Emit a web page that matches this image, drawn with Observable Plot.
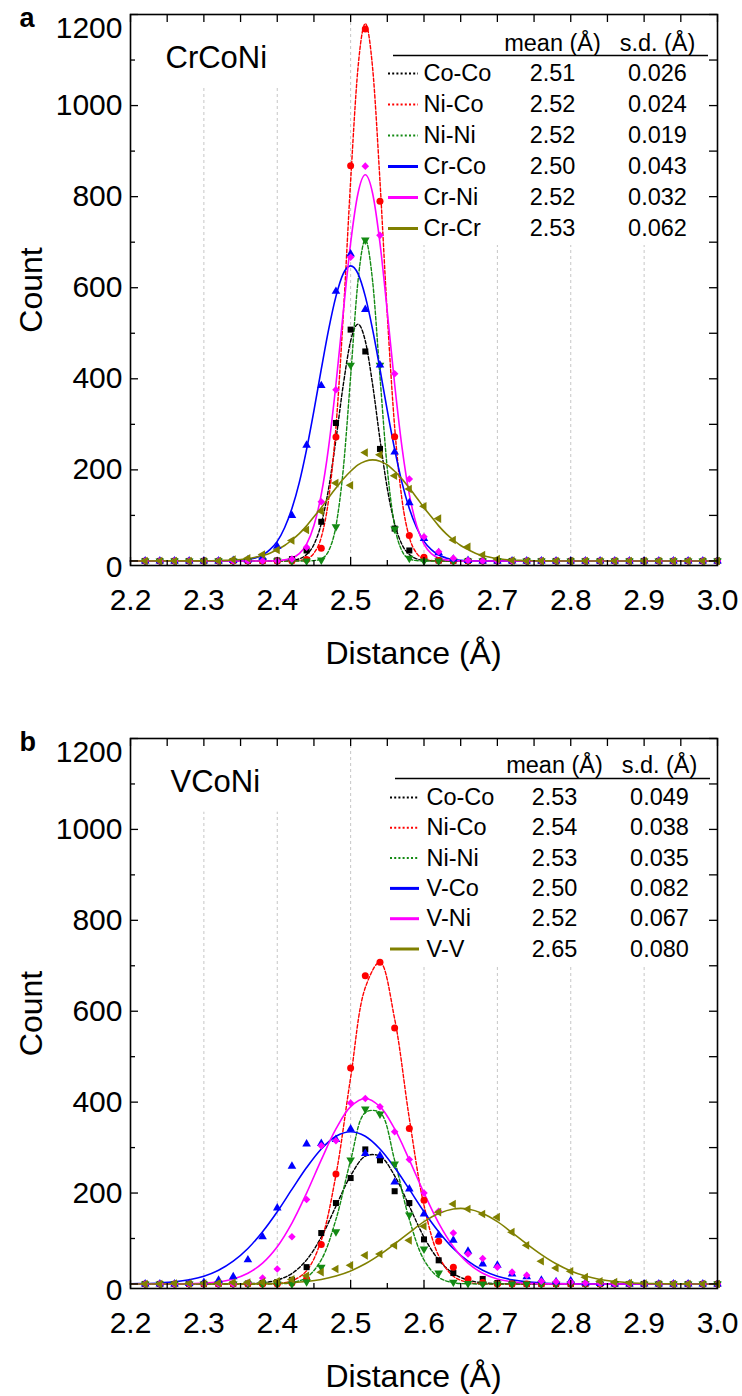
<!DOCTYPE html>
<html>
<head>
<meta charset="utf-8">
<script src="https://cdn.jsdelivr.net/npm/d3@7"></script>
<script src="https://cdn.jsdelivr.net/npm/@observablehq/plot@0.6"></script>
<style>
  html, body { margin: 0; padding: 0; background: #fff; }
  #chart svg { display: block; }
</style>
</head>
<body>
<div id="chart"></div>
<script>
// ---------- shared axis data ----------
const xMajor = [2.2, 2.3, 2.4, 2.5, 2.6, 2.7, 2.8, 2.9, 3.0];
const xTickLabels = ["2.2", "2.3", "2.4", "2.5", "2.6", "2.7", "2.8", "2.9", "3.0"];
const xMinor = [2.25, 2.35, 2.45, 2.55, 2.65, 2.75, 2.85, 2.95];
const gridX = [2.3, 2.4, 2.5, 2.6, 2.7, 2.8, 2.9];
const yMajor = [0, 200, 400, 600, 800, 1000, 1200];
const yTickLabels = ["0", "200", "400", "600", "800", "1000", "1200"];
const yMinor = [100, 300, 500, 700, 900, 1100];

// ---------- legend tables ----------
const pairsA = ["Co-Co", "Ni-Co", "Ni-Ni", "Cr-Co", "Cr-Ni", "Cr-Cr"];
const meansA = ["2.51", "2.52", "2.52", "2.50", "2.52", "2.53"];
const sdsA = ["0.026", "0.024", "0.019", "0.043", "0.032", "0.062"];
const pairsB = ["Co-Co", "Ni-Co", "Ni-Ni", "V-Co", "V-Ni", "V-V"];
const meansB = ["2.53", "2.54", "2.53", "2.50", "2.52", "2.65"];
const sdsB = ["0.049", "0.038", "0.035", "0.082", "0.067", "0.080"];

// ---------- histogram points (distance, Å) ----------
const pointX = [2.22, 2.24, 2.26, 2.28, 2.30, 2.32, 2.34, 2.36, 2.38, 2.40,
                2.42, 2.44, 2.46, 2.48, 2.50, 2.52, 2.54, 2.56, 2.58, 2.60,
                2.62, 2.64, 2.66, 2.68, 2.70, 2.72, 2.74, 2.76, 2.78, 2.80,
                2.82, 2.84, 2.86, 2.88, 2.90, 2.92, 2.94, 2.96, 2.98, 3.00];

// panel a (CrCoNi) counts
const aCoCoPts = [0,0,0,0,0,0,0,0,0,1, 4,23,86,303,508,460,246,71,23,6, 1,0,0,0,0,0,0,0,0,0, 0,0,0,0,0,0,0,0,0,0];
const aNiCoPts = [0,0,0,0,0,0,0,0,0,0, 0,3,28,272,868,1168,790,273,56,8, 1,0,0,0,0,0,0,0,0,0, 0,0,0,0,0,0,0,0,0,0];
const aNiNiPts = [0,0,0,0,0,0,0,0,0,0, 0,0,2,75,430,705,430,70,6,0, 0,0,0,0,0,0,0,0,0,0, 0,0,0,0,0,0,0,0,0,0];
const aCrCoPts = [0,0,0,0,0,0,1,2,8,32, 100,254,385,592,674,552,430,239,128,49, 18,4,1,0,0,0,0,0,0,0, 0,0,0,0,0,0,0,0,0,0];
const aCrNiPts = [0,0,0,0,0,0,0,0,0,0, 4,30,130,376,667,867,715,411,180,53, 20,6,1,0,0,0,0,0,0,0, 0,0,0,0,0,0,0,0,0,0];
const aCrCrPts = [0,0,0,0,0,0,3,6,14,24, 45,68,109,171,166,238,233,187,158,120, 93,46,31,13,4,1,0,0,0,0, 0,0,0,0,0,0,0,0,0,0];

// panel b (VCoNi) counts
const bCoCoPts = [0,0,0,0,0,0,0,1,2,4, 9,37,112,178,233,296,272,204,178,98, 52,24,7,11,2,1,0,0,0,0, 0,0,0,0,0,0,0,0,0,0];
const bNiCoPts = [0,0,0,0,0,0,0,0,0,0, 2,11,87,242,475,678,708,563,342,184, 94,37,11,3,0,0,0,0,0,0, 0,0,0,0,0,0,0,0,0,0];
const bNiNiPts = [0,0,0,0,0,0,0,0,0,0, 0,5,37,115,273,385,374,264,152,77, 24,4,1,0,0,0,0,0,0,0, 0,0,0,0,0,0,0,0,0,0];
const bVCoPts  = [0,0,0,1,3,8,16,53,104,167, 259,308,309,318,341,287,282,224,209,154, 107,96,72,44,41,22,16,8,5,7, 2,1,0,0,0,0,0,0,0,0];
const bVNiPts  = [0,0,0,0,0,0,0,2,13,33, 104,186,304,315,398,408,390,335,274,200, 160,112,66,56,37,26,19,6,5,4, 2,1,0,0,0,0,0,0,0,0];
const bVVPts   = [0,0,1,1,1,2,3,3,4,6, 10,18,26,33,41,63,66,85,96,127, 158,176,165,154,147,114,85,50,35,28, 15,6,4,2,1,0,0,0,0,0];

// ---------- fitted curves ----------
const fitXA = [2.20, 2.30, 2.31, 2.32, 2.33, 2.34, 2.35, 2.36, 2.37, 2.38, 2.39,
               2.40, 2.41, 2.42, 2.43, 2.44, 2.45, 2.46, 2.47, 2.48, 2.49,
               2.50, 2.51, 2.52, 2.53, 2.54, 2.55, 2.56, 2.57, 2.58, 2.59,
               2.60, 2.61, 2.62, 2.63, 2.64, 2.65, 2.66, 2.67, 2.68, 2.69,
               2.70, 2.71, 2.72, 2.73, 2.74, 2.75, 2.76, 2.77, 2.78, 2.79, 2.80, 3.00];
const aCoCoFit = [0, 0,0,0,0,0,0,0,0,0,0, 0,0.3,1.3,4.6,14,36,82,159,267,387, 483,520,483,387,267,159,82,36,14,4.6, 1.3,0.3,0,0,0,0,0,0,0,0, 0,0,0,0,0,0,0,0,0,0,0, 0];
const aNiCoFit = [0, 0,0,0,0,0,0,0,0,0,0, 0,0,0,1,4.6,17,52,135,294,540, 834,1082,1180,1082,834,540,294,135,52,17, 4.6,1,0,0,0,0,0,0,0,0, 0,0,0,0,0,0,0,0,0,0,0, 0];
const aNiNiFit = [0, 0,0,0,0,0,0,0,0,0,0, 0,0,0,0,0,0.8,4.8,22,77,202, 405,614,705,614,405,202,77,22,4.8,0.8, 0,0,0,0,0,0,0,0,0,0, 0,0,0,0,0,0,0,0,0,0,0, 0];
const aCrCoFit = [0, 0,0,0,0.3,0.6,1.5,3.2,6.7,13,25, 43,73,115,172,245,330,421,508,581,631, 648,631,581,508,421,330,245,172,115,73, 43,25,13,6.7,3.2,1.5,0.6,0.3,0,0, 0,0,0,0,0,0,0,0,0,0,0, 0];
const aCrNiFit = [0, 0,0,0,0,0,0,0,0,0,0, 0.8,2.3,6.4,16,37,78,146,250,388,547, 698,807,848,807,698,547,388,250,146,78, 37,16,6.4,2.3,0.8,0,0,0,0,0, 0,0,0,0,0,0,0,0,0,0,0, 0];
const aCrCrFit = [0, 0.2,0.4,0.7,1.2,2.0,3.3,5.2,8,12,17, 25,34,46,60,77,97,117,139,160,180, 197,211,219,222,219,211,197,180,160,139, 117,97,77,60,46,34,25,17,12,8, 5.2,3.3,2.0,1.2,0.7,0.4,0.2,0.1,0.07,0,0, 0];

const fitXB = [2.20, 2.22, 2.24, 2.26, 2.28, 2.30, 2.32, 2.34, 2.36, 2.38,
               2.40, 2.42, 2.44, 2.46, 2.48, 2.50, 2.52, 2.54, 2.56, 2.58,
               2.60, 2.62, 2.64, 2.66, 2.68, 2.70, 2.72, 2.74, 2.76, 2.78,
               2.80, 2.82, 2.84, 2.86, 2.88, 2.90, 2.92, 2.94, 2.96, 2.98, 3.00];
const bCoCoFit = [0,0,0,0,0,0,0,0.2,0.7,2.6, 8.5,23,53,103,171,238,281,281,238,171, 103,53,23,8.5,2.6,0.7,0.2,0,0,0, 0,0,0,0,0,0,0,0,0,0,0];
const bNiCoFit = [0,0,0,0,0,0,0,0,0,0.15, 1.2,6.7,29,96,240,454,652,708,583,364, 173,62,17,3.5,0.5,0,0,0,0,0, 0,0,0,0,0,0,0,0,0,0,0];
const bNiNiFit = [0,0,0,0,0,0,0,0,0,0, 0.4,2.8,14.4,53,142,272,377,377,272,142, 53,14.4,2.8,0.4,0,0,0,0,0,0, 0,0,0,0,0,0,0,0,0,0,0];
const bVCoFit  = [0.4,1.0,2.2,4.6,9.2,17,30,50,78,115, 159,208,256,297,325,335,325,297,256,208, 159,115,78,50,30,17,9.2,4.6,2.2,1.0, 0.4,0.2,0,0,0,0,0,0,0,0,0];
const bVNiFit  = [0,0,0.1,0.2,0.7,1.9,4.7,11,23.6,46, 82,134,200,273,341,390,408,390,341,273, 200,134,82,46,23.6,11,4.7,1.9,0.7,0.2, 0.1,0,0,0,0,0,0,0,0,0,0];
const bVVFit   = [0,0,0,0,0,0,0,0.1,0.2,0.6, 1.3,2.7,5.3,9.9,17.4,28.6,44.3,64.5,88,113, 137,155,165,165,155,137,113,88,64.5,44.3, 28.6,17.4,9.9,5.3,2.7,1.3,0.6,0.2,0.1,0,0];

// ---------- styling ----------
const FONT = "'Liberation Sans', Arial, Helvetica, sans-serif";
const colors = ["#000000", "#ff0000", "#138a13", "#0000ff", "#ff00ff", "#808000"];
const symbols = ["square", "circle", "triangle", "triangle", "diamond2", "triangle"];
const rotations = [0, 0, 180, 0, 0, -90];
const radii = [3.4, 3.5, 3.2, 3.2, 3.4, 3.2];
const W = 742, ML = 130, MR = 25;

function makePanel(c) {
  const top = c.marginTop, bottom = c.height - c.marginBottom;
  const sx = Plot.scale({x: {domain: [2.2, 3.0], range: [ML, W - MR]}});
  const sy = Plot.scale({y: {domain: [-10, 1200], range: [bottom, top]}});
  const X = px => sx.invert(px), Y = py => sy.invert(py);
  const tk = {stroke: "black", strokeWidth: 1.3};
  const marks = [
    Plot.ruleX(gridX, {y1: -10, y2: 1200, stroke: "#c6c6c6", strokeWidth: 1, strokeDasharray: "3,3"}),
    Plot.rect([0], {x1: 2.2, x2: X(c.labelBox[0]), y1: Y(c.labelBox[1]), y2: 1200, fill: "white"}),
    Plot.rect([0], {x1: X(c.legendBox[0]), x2: 3.0, y1: Y(c.legendBox[1]), y2: 1200, fill: "white"})
  ];
  c.fits.forEach((vals, i) => {
    marks.push(Plot.line(c.fitX.map((x, j) => ({x, y: vals[j]})), {
      x: "x", y: "y", stroke: colors[i], strokeWidth: i < 3 ? 1.4 : 1.6,
      ...(i < 3 ? {strokeDasharray: "3.5,2"} : {}), curve: c.curve
    }));
  });
  c.pts.forEach((vals, i) => {
    marks.push(Plot.dot(pointX.map((x, j) => ({x, y: vals[j]})), {
      x: "x", y: "y", fill: colors[i], symbol: symbols[i], rotate: rotations[i], r: radii[i]
    }));
  });
  // ticks (inward) and frame
  marks.push(
    Plot.ruleY(yMajor, {x1: 2.2, x2: X(ML + 8), ...tk}),
    Plot.ruleY(yMinor, {x1: 2.2, x2: X(ML + 5), ...tk}),
    Plot.ruleY([...yMajor, ...yMinor], {x1: X(W - MR - 8), x2: 3.0, ...tk}),
    Plot.ruleX(xMajor, {y1: -10, y2: Y(bottom - 8), ...tk}),
    Plot.ruleX(xMinor, {y1: -10, y2: Y(bottom - 5), ...tk}),
    Plot.ruleX([...xMajor, ...xMinor], {y1: Y(top + 8), y2: 1200, ...tk}),
    Plot.frame({stroke: "black", strokeWidth: 1.6})
  );
  // tick labels
  const tl = {fontSize: 30, fill: "black", textAnchor: "end", dx: -8, x: 2.2};
  marks.push(
    Plot.text(yMajor.slice(1, -1), {...tl, y: d => d, text: (d, i) => yTickLabels[i + 1]}),
    Plot.text([yMajor[0]], {...tl, y: d => d, text: () => yTickLabels[0], dy: 6}),
    Plot.text([yMajor[yMajor.length - 1]], {...tl, y: d => d, text: () => yTickLabels[yTickLabels.length - 1], dy: 14}),
    Plot.text(xMajor, {x: d => d, y: -10, text: (d, i) => xTickLabels[i], lineAnchor: "top", dy: 23, fontSize: 30, fill: "black"})
  );
  // axis titles, panel letter, alloy name
  marks.push(
    Plot.text(["Distance (Å)"], {x: X(413), y: Y(c.xTitleY), text: d => d, fontSize: 32, fill: "black"}),
    Plot.text(["Count"], {x: X(31), y: Y((top + bottom) / 2), text: d => d, rotate: -90, fontSize: 32, fill: "black"}),
    Plot.text([c.letter], {x: X(19), y: Y(c.letterY), text: d => d, textAnchor: "start", fontSize: 27, fontWeight: "bold", fill: "black"}),
    Plot.text([c.title], {x: X(c.titleX), y: Y(c.titleY), text: d => d, textAnchor: "start", fontSize: 31, fill: "black"})
  );
  // legend table
  const lg = c.legend;
  const rowY = i => Y(lg.rowY0 + i * lg.rowDy);
  marks.push(
    Plot.text(["mean (Å)", "s.d. (Å)"], {x: (d, i) => X(i ? lg.sdX : lg.meanX), y: Y(lg.headY), text: d => d, fontSize: 23.5, fill: "black"}),
    Plot.ruleY([Y(lg.ruleY)], {x1: X(lg.ruleX[0]), x2: X(lg.ruleX[1]), stroke: "black", strokeWidth: 1.5})
  );
  c.pairs.forEach((p, i) => {
    marks.push(Plot.ruleY([rowY(i)], {
      x1: X(lg.sample[0]), x2: X(lg.sample[1]), stroke: colors[i], strokeWidth: i < 3 ? 2 : 3,
      ...(i < 3 ? {strokeDasharray: "2,2.2"} : {})
    }));
  });
  marks.push(
    Plot.text(c.pairs, {x: X(lg.textX), y: (d, i) => rowY(i), text: d => d, textAnchor: "start", fontSize: 23.5, fill: "black"}),
    Plot.text(c.means, {x: X(lg.meanX), y: (d, i) => rowY(i), text: d => d, fontSize: 23.5, fill: "black"}),
    Plot.text(c.sds, {x: X(lg.sdX), y: (d, i) => rowY(i), text: d => d, fontSize: 23.5, fill: "black"})
  );
  return Plot.plot({
    width: W, height: c.height,
    marginLeft: ML, marginRight: MR, marginTop: c.marginTop, marginBottom: c.marginBottom,
    x: {domain: [2.2, 3.0], axis: null},
    y: {domain: [-10, 1200], axis: null},
    style: {fontFamily: FONT, background: "white", overflow: "visible"},
    marks
  });
}

const chart = document.getElementById("chart");
chart.appendChild(makePanel({
  height: 690, marginTop: 14, marginBottom: 125,
  fitX: fitXA, curve: "monotone-x",
  fits: [aCoCoFit, aNiCoFit, aNiNiFit, aCrCoFit, aCrNiFit, aCrCrFit],
  pts: [aCoCoPts, aNiCoPts, aNiNiPts, aCrCoPts, aCrNiPts, aCrCrPts],
  pairs: pairsA, means: meansA, sds: sdsA,
  letter: "a", letterY: 17.5, title: "CrCoNi", titleX: 165, titleY: 58,
  xTitleY: 653,
  labelBox: [320, 88], legendBox: [385, 245],
  legend: {headY: 43, ruleY: 55, ruleX: [393, 708], rowY0: 73, rowDy: 31,
           sample: [388, 418], textX: 423, meanX: 552, sdX: 657}
}));
chart.appendChild(makePanel({
  height: 706, marginTop: 48, marginBottom: 108,
  fitX: fitXB, curve: "catmull-rom",
  fits: [bCoCoFit, bNiCoFit, bNiNiFit, bVCoFit, bVNiFit, bVVFit],
  pts: [bCoCoPts, bNiCoPts, bNiNiPts, bVCoPts, bVNiPts, bVVPts],
  pairs: pairsB, means: meansB, sds: sdsB,
  letter: "b", letterY: 51.5, title: "VCoNi", titleX: 170, titleY: 91.7,
  xTitleY: 686,
  labelBox: [320, 121.7], legendBox: [388, 275],
  legend: {headY: 75, ruleY: 88, ruleX: [395, 710], rowY0: 107, rowDy: 30.3,
           sample: [390, 419], textX: 426, meanX: 554, sdX: 659}
}));
</script>
</body>
</html>
